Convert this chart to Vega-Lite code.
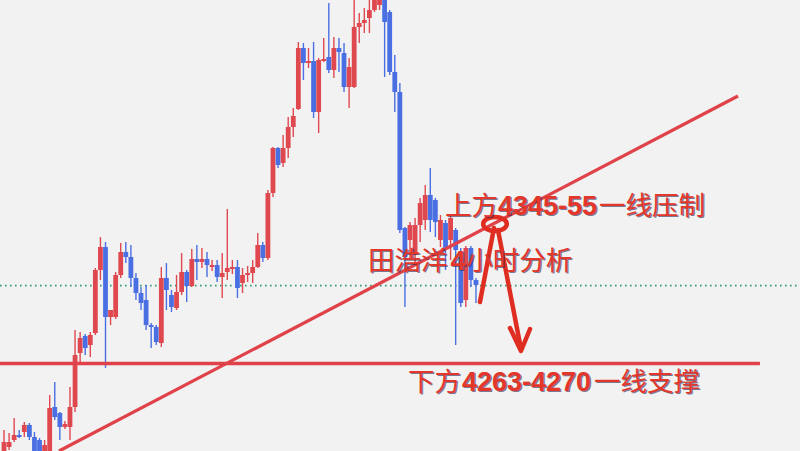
{
  "$schema": "https://vega.github.io/schema/vega-lite/v6.json",
  "width": 800,
  "height": 451,
  "autosize": {"type": "fit", "contains": "padding"},
  "padding": 0,
  "background": "#f2f2f2",
  "config": {"view": {"stroke": null}},
  "datasets": {
    "candles": [
      {"i":0,"o":4222,"h":4235,"l":4221,"c":4229},
      {"i":1,"o":4226.5,"h":4233.5,"l":4225,"c":4229},
      {"i":2,"o":4230,"h":4241,"l":4229,"c":4232.5},
      {"i":3,"o":4232.5,"h":4235,"l":4231,"c":4231.5},
      {"i":4,"o":4234,"h":4239,"l":4231.5,"c":4237.5},
      {"i":5,"o":4237.5,"h":4238.5,"l":4230,"c":4231.5},
      {"i":6,"o":4231.5,"h":4234,"l":4221,"c":4222.5},
      {"i":7,"o":4230,"h":4231,"l":4221,"c":4222.5},
      {"i":8,"o":4221,"h":4230,"l":4220,"c":4227.5},
      {"i":9,"o":4220,"h":4252.5,"l":4219,"c":4246},
      {"i":10,"o":4246.5,"h":4259,"l":4240,"c":4241.5},
      {"i":11,"o":4243.5,"h":4244,"l":4230,"c":4236.5},
      {"i":12,"o":4236.5,"h":4239.5,"l":4235.5,"c":4238},
      {"i":13,"o":4236.5,"h":4256.5,"l":4230,"c":4246.5},
      {"i":14,"o":4246.5,"h":4285,"l":4244,"c":4272.5},
      {"i":15,"o":4273.5,"h":4284,"l":4269,"c":4281},
      {"i":16,"o":4282,"h":4283,"l":4272.5,"c":4276},
      {"i":17,"o":4277.5,"h":4284,"l":4271.5,"c":4282.5},
      {"i":18,"o":4283.5,"h":4316,"l":4282.5,"c":4315},
      {"i":19,"o":4315,"h":4331.5,"l":4310,"c":4326.5},
      {"i":20,"o":4326.5,"h":4329,"l":4266,"c":4291.5},
      {"i":21,"o":4291.5,"h":4295,"l":4287.5,"c":4295},
      {"i":22,"o":4291.5,"h":4314,"l":4290.5,"c":4312.5},
      {"i":23,"o":4312.5,"h":4328.5,"l":4311,"c":4324},
      {"i":24,"o":4324,"h":4329,"l":4318.5,"c":4321.5},
      {"i":25,"o":4321.5,"h":4327.5,"l":4306.5,"c":4311},
      {"i":26,"o":4311,"h":4313.5,"l":4300,"c":4303.5},
      {"i":27,"o":4303.5,"h":4306.5,"l":4295,"c":4298.5},
      {"i":28,"o":4300,"h":4307.5,"l":4285,"c":4287.5},
      {"i":29,"o":4287.5,"h":4288.5,"l":4276,"c":4286.5},
      {"i":30,"o":4286.5,"h":4287.5,"l":4277.5,"c":4279},
      {"i":31,"o":4278.5,"h":4316.5,"l":4276.5,"c":4311},
      {"i":32,"o":4311,"h":4318.5,"l":4295,"c":4305},
      {"i":33,"o":4302.5,"h":4305,"l":4294,"c":4296.5},
      {"i":34,"o":4296,"h":4312.5,"l":4295,"c":4304},
      {"i":35,"o":4304,"h":4323.5,"l":4302.5,"c":4314},
      {"i":36,"o":4314,"h":4315,"l":4299,"c":4307},
      {"i":37,"o":4307,"h":4325.5,"l":4306.5,"c":4320.5},
      {"i":38,"o":4320.5,"h":4327.5,"l":4310,"c":4319},
      {"i":39,"o":4319,"h":4326,"l":4316,"c":4320.5},
      {"i":40,"o":4320.5,"h":4324,"l":4311.5,"c":4317.5},
      {"i":41,"o":4316.5,"h":4320,"l":4314.5,"c":4317.5},
      {"i":42,"o":4317.5,"h":4320,"l":4309,"c":4311.5},
      {"i":43,"o":4311.5,"h":4323.5,"l":4301,"c":4313.5},
      {"i":44,"o":4314,"h":4345.5,"l":4310,"c":4316},
      {"i":45,"o":4315.5,"h":4320,"l":4313,"c":4316.5},
      {"i":46,"o":4316.5,"h":4320,"l":4301,"c":4306},
      {"i":47,"o":4308.5,"h":4316,"l":4303.5,"c":4312.5},
      {"i":48,"o":4312.5,"h":4317,"l":4309,"c":4313.5},
      {"i":49,"o":4313.5,"h":4320,"l":4308.5,"c":4316.5},
      {"i":50,"o":4316.5,"h":4333.5,"l":4316,"c":4327.5},
      {"i":51,"o":4327.5,"h":4329,"l":4319,"c":4321},
      {"i":52,"o":4321,"h":4355,"l":4320,"c":4353.5},
      {"i":53,"o":4353.5,"h":4376.5,"l":4351.5,"c":4376},
      {"i":54,"o":4376,"h":4376.5,"l":4366,"c":4367.5},
      {"i":55,"o":4368.5,"h":4382.5,"l":4366.5,"c":4376},
      {"i":56,"o":4376,"h":4391.5,"l":4371,"c":4386.5},
      {"i":57,"o":4386.5,"h":4396,"l":4381.5,"c":4392},
      {"i":58,"o":4395.5,"h":4429,"l":4395,"c":4426},
      {"i":59,"o":4426,"h":4428.5,"l":4410,"c":4418.5},
      {"i":60,"o":4418.5,"h":4426,"l":4416,"c":4419.5},
      {"i":61,"o":4419.5,"h":4429,"l":4391,"c":4394},
      {"i":62,"o":4394,"h":4421,"l":4383.5,"c":4420},
      {"i":63,"o":4419.5,"h":4431,"l":4419,"c":4420.5},
      {"i":64,"o":4421.5,"h":4448.5,"l":4413.5,"c":4415},
      {"i":65,"o":4415,"h":4431.5,"l":4411,"c":4426},
      {"i":66,"o":4426,"h":4431,"l":4414,"c":4424},
      {"i":67,"o":4423.5,"h":4428.5,"l":4404,"c":4406.5},
      {"i":68,"o":4406.5,"h":4421,"l":4396,"c":4416.5},
      {"i":69,"o":4406.5,"h":4452.5,"l":4406,"c":4436.5},
      {"i":70,"o":4436.5,"h":4443.5,"l":4428.5,"c":4438.5},
      {"i":71,"o":4438.5,"h":4446,"l":4433.5,"c":4440},
      {"i":72,"o":4441,"h":4451,"l":4433.5,"c":4445},
      {"i":73,"o":4445,"h":4457.5,"l":4444,"c":4452.5},
      {"i":74,"o":4447.5,"h":4460,"l":4445,"c":4454},
      {"i":75,"o":4452.5,"h":4457.5,"l":4411.5,"c":4439},
      {"i":76,"o":4444,"h":4445,"l":4412.5,"c":4414},
      {"i":77,"o":4414,"h":4422.5,"l":4394,"c":4404},
      {"i":78,"o":4404,"h":4408.5,"l":4333.5,"c":4335},
      {"i":79,"o":4336,"h":4336.5,"l":4296.5,"c":4321.5},
      {"i":80,"o":4330,"h":4339,"l":4321,"c":4337.5},
      {"i":81,"o":4322.5,"h":4341,"l":4317.5,"c":4337.5},
      {"i":82,"o":4337.5,"h":4351,"l":4329,"c":4348.5},
      {"i":83,"o":4340,"h":4357.5,"l":4335,"c":4352.5},
      {"i":84,"o":4352.5,"h":4366,"l":4334,"c":4340},
      {"i":85,"o":4350,"h":4351,"l":4331.5,"c":4339},
      {"i":86,"o":4330,"h":4342.5,"l":4326.5,"c":4340},
      {"i":87,"o":4338.5,"h":4340,"l":4315,"c":4326},
      {"i":88,"o":4330,"h":4342.5,"l":4320,"c":4341},
      {"i":89,"o":4335,"h":4336,"l":4277.5,"c":4325},
      {"i":90,"o":4321.5,"h":4326,"l":4296.5,"c":4298.5},
      {"i":91,"o":4300,"h":4327,"l":4296.5,"c":4326},
      {"i":92,"o":4326,"h":4327,"l":4306.5,"c":4310},
      {"i":93,"o":4310,"h":4311,"l":4298.5,"c":4307.5}
    ],
    "last": [{"i": -0.79, "p": 4307.2}, {"i": 156.85, "p": 4307.2}],
    "support": [{"i": -0.79, "p": 4268.25}, {"i": 148.96, "p": 4268.25}],
    "trend": [{"i": 10.84, "p": 4224.5}, {"i": 144.63, "p": 4402}],
    "arrows": [
      {"s": "up", "i": 93.79, "p": 4299},
      {"s": "up", "i": 96.55, "p": 4336},
      {"s": "down", "i": 97.34, "p": 4335},
      {"s": "down", "i": 101.87, "p": 4275.5},
      {"s": "head", "i": 99.7, "p": 4286},
      {"s": "head", "i": 101.87, "p": 4274.5},
      {"s": "head", "i": 103.65, "p": 4285.5}
    ],
    "ring": [{"i": 96.75, "p": 4338}],
    "labels": [
      {"t": "上方", "i": 86.9, "p": 4346.5, "k": "cjk"},
      {"t": "4345-55", "i": 97.34, "p": 4346.5, "k": "num"},
      {"t": "一线压制", "i": 117.24, "p": 4346.5, "k": "cjk"},
      {"t": "田浩洋", "i": 71.72, "p": 4319, "k": "cjk"},
      {"t": "4", "i": 88.0, "p": 4319, "k": "num"},
      {"t": "小时分析", "i": 91.1, "p": 4319, "k": "cjk"},
      {"t": "下方", "i": 79.6, "p": 4258.5, "k": "cjk"},
      {"t": "4263-4270", "i": 90.24, "p": 4258.5, "k": "num"},
      {"t": "一线支撑", "i": 116.25, "p": 4258.5, "k": "cjk"}
    ]
  },
  "encoding": {
    "x": {"field": "i", "type": "quantitative", "scale": {"domain": [-0.79, 156.85], "nice": false, "zero": false}, "axis": null},
    "y": {"type": "quantitative", "scale": {"domain": [4224.5, 4450], "nice": false, "zero": false}, "axis": null}
  },
  "layer": [
    {
      "data": {"name": "last"},
      "mark": {"type": "line", "stroke": "#2f9a70", "strokeWidth": 1.6, "strokeDash": [1.6, 3.4], "clip": true},
      "encoding": {"y": {"field": "p", "type": "quantitative"}}
    },
    {
      "data": {"name": "candles"},
      "mark": {"type": "rule", "strokeWidth": 1.4, "clip": true},
      "encoding": {
        "y": {"field": "l", "type": "quantitative"},
        "y2": {"field": "h"},
        "color": {"condition": {"test": "datum.c >= datum.o", "value": "#e0484f"}, "value": "#4a6fe3"}
      }
    },
    {
      "data": {"name": "candles"},
      "mark": {"type": "rule", "strokeWidth": 4.8, "strokeCap": "butt", "clip": true},
      "encoding": {
        "y": {"field": "o", "type": "quantitative"},
        "y2": {"field": "c"},
        "color": {"condition": {"test": "datum.c >= datum.o", "value": "#e0484f"}, "value": "#4a6fe3"}
      }
    },
    {
      "data": {"name": "support"},
      "mark": {"type": "line", "stroke": "#e0424a", "strokeWidth": 3.5, "clip": true},
      "encoding": {"y": {"field": "p", "type": "quantitative"}}
    },
    {
      "data": {"name": "trend"},
      "mark": {"type": "line", "stroke": "#e0424a", "strokeWidth": 3.3, "clip": true},
      "encoding": {"y": {"field": "p", "type": "quantitative"}}
    },
    {
      "data": {"name": "arrows"},
      "mark": {"type": "line", "stroke": "#e02d22", "strokeWidth": 4.5, "strokeCap": "round", "strokeJoin": "round", "clip": true},
      "encoding": {"y": {"field": "p", "type": "quantitative"}, "detail": {"field": "s"}}
    },
    {
      "data": {"name": "ring"},
      "mark": {"type": "point", "shape": "M -1 0 A 1 0.6 0 1 0 1 0 A 1 0.6 0 1 0 -1 0 Z", "size": 560, "filled": false, "stroke": "#e02d22", "strokeWidth": 4.5, "opacity": 1},
      "encoding": {"y": {"field": "p", "type": "quantitative"}}
    },
    {
      "data": {"name": "labels"},
      "transform": [{"filter": "datum.k == 'cjk'"}],
      "mark": {"type": "text", "align": "left", "baseline": "middle", "font": "Noto Sans CJK SC", "fontSize": 26.5, "fill": "#2b2a55", "opacity": 0.6, "dx": 1.2, "dy": 1.2},
      "encoding": {"y": {"field": "p", "type": "quantitative"}, "text": {"field": "t"}}
    },
    {
      "data": {"name": "labels"},
      "transform": [{"filter": "datum.k == 'num'"}],
      "mark": {"type": "text", "align": "left", "baseline": "middle", "font": "Liberation Sans", "fontWeight": "bold", "fontSize": 27, "fill": "#2b2a55", "opacity": 0.6, "dx": 1.2, "dy": 1.2},
      "encoding": {"y": {"field": "p", "type": "quantitative"}, "text": {"field": "t"}}
    },
    {
      "data": {"name": "labels"},
      "transform": [{"filter": "datum.k == 'cjk'"}],
      "mark": {"type": "text", "align": "left", "baseline": "middle", "font": "Noto Sans CJK SC", "fontSize": 26.5, "fill": "#e3372b"},
      "encoding": {"y": {"field": "p", "type": "quantitative"}, "text": {"field": "t"}}
    },
    {
      "data": {"name": "labels"},
      "transform": [{"filter": "datum.k == 'num'"}],
      "mark": {"type": "text", "align": "left", "baseline": "middle", "font": "Liberation Sans", "fontWeight": "bold", "fontSize": 27, "fill": "#e3372b"},
      "encoding": {"y": {"field": "p", "type": "quantitative"}, "text": {"field": "t"}}
    }
  ]
}
